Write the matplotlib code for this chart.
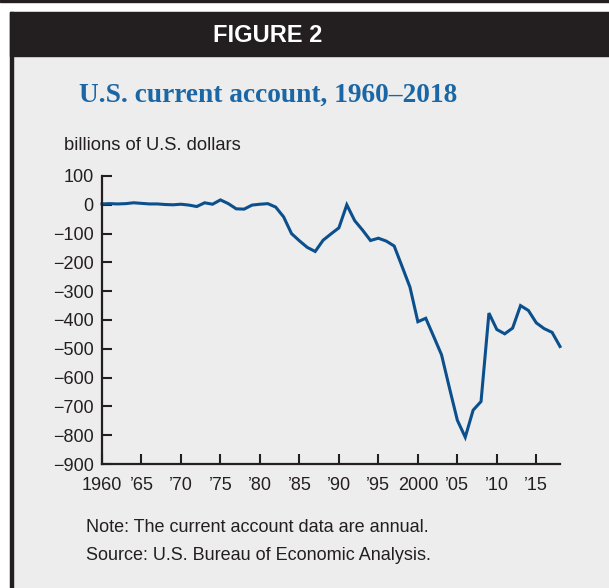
import matplotlib
matplotlib.use("Agg")
import matplotlib.pyplot as plt
from matplotlib.patches import Rectangle

# U.S. current account, billions of dollars
years = list(range(1960, 2019))
current_account = [3, 4, 3, 4, 7, 5, 3, 3, 1, 0,
                   2, -1, -6, 7, 2, 17, 4, -14, -15, -1,
                   2, 4, -8, -42, -100, -125, -148, -162, -123, -101,
                   -80, 0, -55, -88, -124, -116, -126, -143, -214, -286,
                   -406, -394, -457, -521, -636, -748, -807, -713, -683, -376,
                   -433, -448, -428, -350, -367, -410, -430, -443, -492]

xtick_pos = [1960, 1965, 1970, 1975, 1980, 1985, 1990, 1995, 2000, 2005, 2010, 2015]
xtick_lab = ['1960', '\u201965', '\u201970', '\u201975', '\u201980', '\u201985',
             '\u201990', '\u201995', '2000', '\u201905', '\u201910', '\u201915']
ytick_pos = list(range(-900, 101, 100))
ytick_lab = [str(v).replace('-', '\u2212') for v in ytick_pos]

W, H = 609, 588
ink = '#231f20'
panel = '#ededed'
sans = ['Liberation Sans', 'DejaVu Sans']

fig = plt.figure(figsize=(W / 100, H / 100), dpi=100, facecolor='white')

def px(x, y):
    return x / W, 1 - y / H

# frame: top rule, panel, black header band, left border
fig.patches.append(Rectangle(px(0, 2), 1, 2 / H, transform=fig.transFigure, color=ink, zorder=-3))
fig.patches.append(Rectangle(px(10, H), 1, (H - 12) / H, transform=fig.transFigure, color=panel, zorder=-3))
fig.patches.append(Rectangle(px(10, 56), 1, 44 / H, transform=fig.transFigure, color=ink, zorder=-2))
fig.patches.append(Rectangle(px(10, H), 2.5 / W, (H - 12) / H, transform=fig.transFigure, color=ink, zorder=-2))

fig.text(*px(268, 35), 'FIGURE 2', color='white', ha='center', va='center',
         fontsize=17, fontweight='bold',
         family=['Liberation Sans Narrow', 'Liberation Sans', 'DejaVu Sans'])
fig.text(*px(268, 95), 'U.S. current account, 1960\u20132018', color='#1b67a5',
         ha='center', va='center', fontsize=19.7, fontweight='bold',
         family=['Liberation Serif', 'DejaVu Serif'])
fig.text(*px(64, 145), 'billions of U.S. dollars', color=ink, ha='left', va='center',
         fontsize=13.2, family=sans)
fig.text(*px(86, 527), 'Note: The current account data are annual.', color=ink,
         ha='left', va='center', fontsize=13, family=sans)
fig.text(*px(86, 555), 'Source: U.S. Bureau of Economic Analysis.', color=ink,
         ha='left', va='center', fontsize=13, family=sans)

l, b = px(102, 464)
r, t = px(560, 176)
ax = fig.add_axes([l, b, r - l, t - b], zorder=2)
ax.set_facecolor('none')
ax.plot(years, current_account, color='#0b4f8c', lw=2.2, solid_joinstyle='miter',
        clip_on=False)
ax.set_xlim(1960, 2018)
ax.set_ylim(-900, 100)

for s in ['top', 'right']:
    ax.spines[s].set_visible(False)
for s in ['left', 'bottom']:
    ax.spines[s].set_color(ink)
    ax.spines[s].set_linewidth(1.6)

ax.set_xticks(xtick_pos)
ax.set_xticklabels(xtick_lab)
ax.set_yticks(ytick_pos)
ax.set_yticklabels(ytick_lab)
ax.tick_params(direction='in', length=7.5, width=1.5, color=ink, labelcolor=ink,
               labelsize=13)
ax.tick_params(axis='x', pad=9)
ax.tick_params(axis='y', pad=6)
for lab in ax.get_xticklabels() + ax.get_yticklabels():
    lab.set_family(sans)

fig.savefig('out.png', dpi=100, facecolor=fig.get_facecolor())
